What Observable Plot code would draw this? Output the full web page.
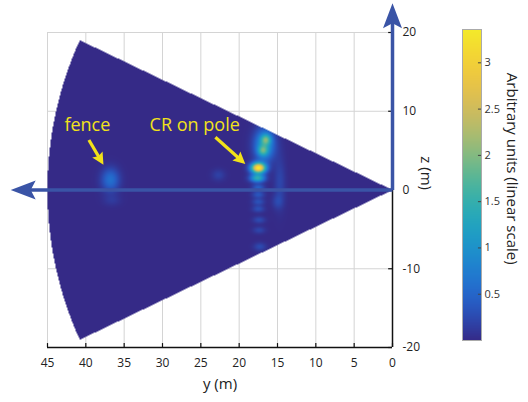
<!DOCTYPE html>
<html><head><meta charset="utf-8">
<script src="https://cdn.jsdelivr.net/npm/d3@7"></script>
<script src="https://cdn.jsdelivr.net/npm/@observablehq/plot@0.6"></script>
<style>
body{margin:0;background:#fff;}
#chart{position:relative;width:528px;height:402px;font-family:"Open Sans",sans-serif;}
#chart svg{position:absolute;overflow:visible;}
</style></head><body><div id="chart"></div>
<script>
// ---- axes / ticks ----
const yTicks = [45, 40, 35, 30, 25, 20, 15, 10, 5, 0];
const zTicks = [-20, -10, 0, 10, 20];
const gridZ = [-20, -10, 0, 10, 20];
const colorTicks = [0.5, 1, 1.5, 2, 2.5, 3];
const colorMax = 3.36;
const xLabel = "y (m)";
const yLabel = "z (m)";
const colorLabel = "Arbitrary units (linear scale)";

// ---- imaged sector (range / half-angle) ----
const sectorRadius = 45;
const sectorHalfAngle = 25;

// ---- bright responses (y, z in m; amplitude; spread in m) ----
const spotY   = [36.8, 36.6, 16.7, 16.5, 16.9, 17.5, 17.6, 17.5, 17.5, 17.5, 17.5, 17.4, 17.4, 17.3, 14.7, 22.7, 15.0];
const spotZ   = [1.3, -1.3, 5.7, 6.4, 5.0, 2.8, 1.5, 0.3, -0.6, -1.5, -2.4, -3.8, -5.1, -7.2, 1.0, 1.9, -1.5];
const spotAmp = [0.6, 0.12, 1.1, 1.1, 1.0, 3.3, 1.4, 0.45, 0.35, 0.32, 0.3, 0.26, 0.22, 0.26, 0.22, 0.18, 0.18];
const spotSy  = [0.8, 0.8, 0.9, 0.45, 0.45, 0.65, 0.65, 0.55, 0.55, 0.55, 0.55, 0.55, 0.55, 0.55, 0.5, 0.6, 0.5];
const spotSz  = [1.0, 0.5, 1.4, 0.45, 0.45, 0.45, 0.35, 0.3, 0.3, 0.3, 0.3, 0.3, 0.3, 0.35, 2.2, 0.5, 0.6];

// ---- annotations ----
const annotLabels = ["fence", "CR on pole"];
const annotTextY = [39.8, 25.8];
const annotTextZ = [8.25, 8.25];
const annotFromY = [39.6, 23.1];
const annotFromZ = [6.35, 6.7];
const annotToY = [37.7, 19.2];
const annotToZ = [3.2, 3.3];

// ---- coordinate arrows ----
const arrowTipY = 49.8;   // horizontal arrow tip (y, m)
const arrowTipZ = 23.7;   // vertical arrow tip (z, m)

// ---- colormap (parula, as printed) ----
const parulaStops = ["#352a87", "#2660cf", "#1e86d0", "#1ca6c2", "#45b59e", "#98bc78", "#d6b95c", "#f5ca38", "#f3ea2a"];
const colorScale = {type: "linear", domain: [0, colorMax], interpolate: d3.interpolateRgbBasis(parulaStops)};

function intensity(y, z) {
  const r = Math.hypot(y, z);
  const a = Math.atan2(z, y) * 180 / Math.PI;
  if (r > sectorRadius || Math.abs(a) > sectorHalfAngle) return NaN;
  let v = 0;
  for (let i = 0; i < spotY.length; ++i) {
    const dy = (y - spotY[i]) / spotSy[i], dz = (z - spotZ[i]) / spotSz[i];
    v += spotAmp[i] * Math.exp(-0.5 * (dy * dy + dz * dz));
  }
  return Math.min(v, colorMax);
}

const W = 528, H = 402, mL = 47, mR = 136, mT = 32, mB = 55;
const kx = (W - mL - mR) / 45, kz = (H - mT - mB) / 40;

// arrowhead symbol: tip at origin, body toward +y
function headSymbol(len, half, notch) {
  return {draw(ctx) {
    ctx.moveTo(0, 0);
    ctx.lineTo(-half, len);
    ctx.lineTo(0, len - notch);
    ctx.lineTo(half, len);
    ctx.closePath();
  }};
}
function screenAngle(fy, fz, ty, tz) {
  const dx = -(ty - fy) * kx, dy = -(tz - fz) * kz;
  return Math.atan2(dx, -dy) * 180 / Math.PI;
}
const idx = d3.range(annotLabels.length);
const shorten = (i, px) => {
  const dx = (annotToY[i] - annotFromY[i]) * kx, dz = (annotToZ[i] - annotFromZ[i]) * kz;
  const L = Math.hypot(dx, dz), t = px / L;
  return [annotToY[i] - (annotToY[i] - annotFromY[i]) * t, annotToZ[i] - (annotToZ[i] - annotFromZ[i]) * t];
};
const yellow = "#f2e21a";
const blue = "#3a54a6";
const fmt = d => String(d);

// position of the colour-bar title, in data units of the main plot
const colorLabelY = -15.6, colorLabelZ = 2.7;

const main = Plot.plot({
  width: W, height: H,
  marginLeft: mL, marginRight: mR, marginTop: mT, marginBottom: mB,
  style: {fontFamily: "Open Sans, sans-serif", background: "transparent", overflow: "visible"},
  x: {domain: [0, 45], reverse: true, axis: null},
  y: {domain: [-20, 20], axis: null},
  color: colorScale,
  marks: [
    Plot.gridX(yTicks, {stroke: "#d4d4d4", strokeOpacity: 1}),
    Plot.gridY(gridZ, {stroke: "#d4d4d4", strokeOpacity: 1}),
    Plot.raster({x1: 0, x2: 45, y1: -20, y2: 20, pixelSize: 1, fill: (y, z) => intensity(y, z)}),
    Plot.ruleY([-20], {stroke: "#111", strokeWidth: 1.5}),
    Plot.ruleX([0], {stroke: "#111", strokeWidth: 1.5}),
    Plot.ruleX(yTicks, {x: d => d, y1: -20, y2: -19.5, stroke: "#111", strokeWidth: 1.2}),
    Plot.ruleY(zTicks, {y: d => d, x1: 0, x2: 0.5, stroke: "#111", strokeWidth: 1.2}),
    Plot.axisX(yTicks, {anchor: "bottom", tickSize: 0, tickPadding: 11, fontSize: 12, fill: "#222", tickFormat: fmt}),
    Plot.axisY(zTicks, {anchor: "right", tickSize: 0, tickPadding: 10, fontSize: 12, fill: "#222", textAnchor: "start", tickFormat: fmt}),
    Plot.text([xLabel], {frameAnchor: "bottom", dy: 41, fontSize: 15, fill: "#222"}),
    Plot.text([yLabel], {frameAnchor: "right", dx: 33, rotate: 90, fontSize: 15, fill: "#222"}),
    Plot.text([colorLabel], {x: colorLabelY, y: colorLabelZ, rotate: 90, fontSize: 15, fill: "#222"}),
    // coordinate arrows
    Plot.link([0], {x1: 0, y1: 0, x2: arrowTipY - 1.5, y2: 0, stroke: blue, strokeWidth: 3.5}),
    Plot.link([0], {x1: 0, y1: 0, x2: 0, y2: arrowTipZ - 1.5, stroke: blue, strokeWidth: 3.5}),
    Plot.dot([0], {x: arrowTipY, y: 0, symbol: headSymbol(25, 9.5, 5), r: 1, rotate: -90, fill: blue, stroke: "none"}),
    Plot.dot([0], {x: 0, y: arrowTipZ, symbol: headSymbol(25, 9.5, 5), r: 1, rotate: 0, fill: blue, stroke: "none"}),
    // annotations
    Plot.link(idx, {x1: i => annotFromY[i], y1: i => annotFromZ[i], x2: i => shorten(i, 6)[0], y2: i => shorten(i, 6)[1], stroke: yellow, strokeWidth: 3.2}),
    Plot.dot(idx, {x: i => annotToY[i], y: i => annotToZ[i], symbol: headSymbol(12, 6, 2), r: 1,
      rotate: i => screenAngle(annotFromY[i], annotFromZ[i], annotToY[i], annotToZ[i]), fill: yellow, stroke: "none"}),
    Plot.text(idx, {x: i => annotTextY[i], y: i => annotTextZ[i], text: i => annotLabels[i], fill: yellow, fontSize: 18})
  ]
});
main.style.left = "0px"; main.style.top = "0px";

const cbTop = 29, cbBottom = 340, cbLeft = 462, cbWidth = 19, cbPad = 10;
const bar = Plot.plot({
  width: cbWidth + 40, height: (cbBottom - cbTop) + 2 * cbPad,
  marginLeft: 0, marginRight: 40, marginTop: cbPad, marginBottom: cbPad,
  style: {fontFamily: "Open Sans, sans-serif", background: "transparent", overflow: "visible"},
  x: {domain: [0, 1], axis: null},
  y: {domain: [0, colorMax], axis: null},
  color: colorScale,
  marks: [
    Plot.raster({x1: 0, x2: 1, y1: 0, y2: colorMax, pixelSize: 1, fill: (x, y) => y}),
    Plot.frame({stroke: "#aaa"}),
    Plot.ruleY(colorTicks, {y: d => d, x1: 0.84, x2: 1, stroke: "#444"}),
    Plot.axisY(colorTicks, {anchor: "right", tickSize: 0, tickPadding: 3, fontSize: 11, fill: "#333", textAnchor: "start", tickFormat: fmt})
  ]
});
bar.style.left = cbLeft + "px"; bar.style.top = (cbTop - cbPad) + "px";

const c = document.getElementById("chart");
c.append(main, bar);
</script></body></html>
